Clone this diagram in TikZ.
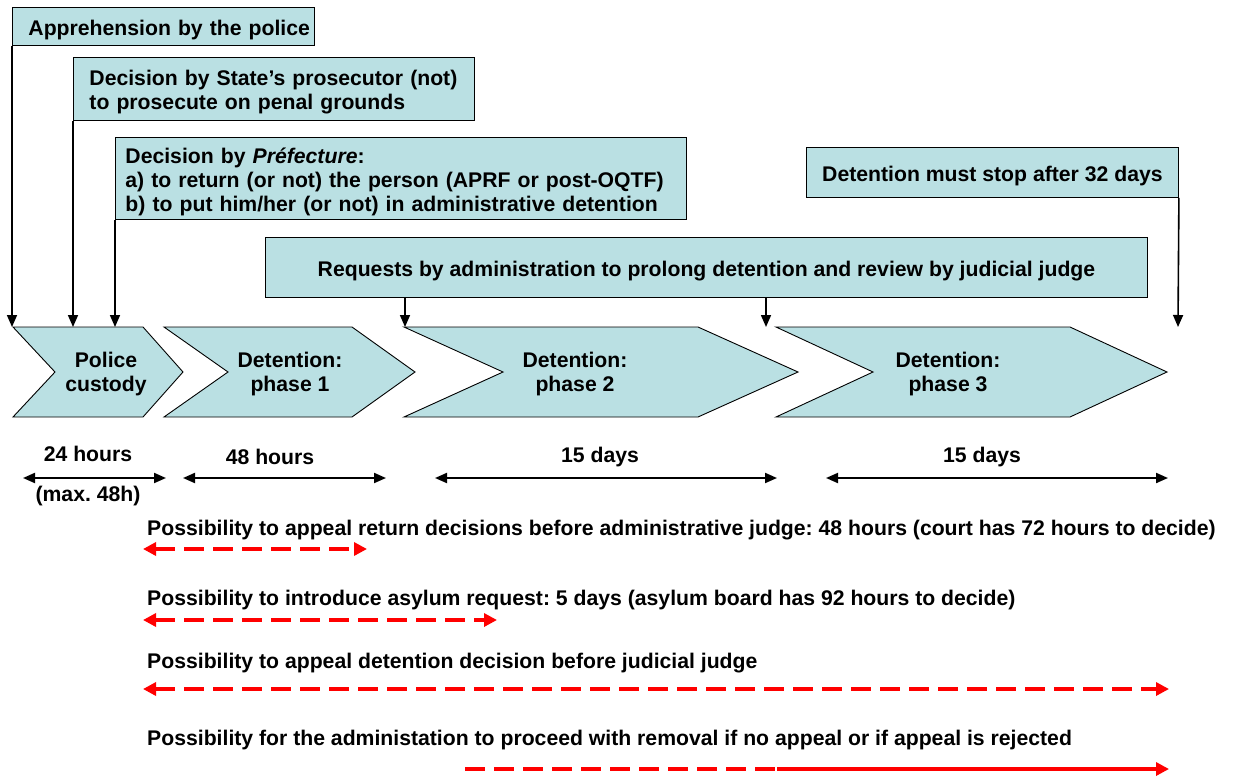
\documentclass[tikz,border=0pt]{standalone}
\usepackage{fontspec}
\setmainfont{Liberation Sans}
\usetikzlibrary{arrows.meta}
\definecolor{boxfill}{RGB}{186,224,227}
\definecolor{dred}{RGB}{255,0,0}
\frenchspacing
\begin{document}
\frenchspacing
\begin{tikzpicture}[x=1pt,y=-1pt,
  font=\fontsize{21.2}{24}\selectfont\bfseries\frenchspacing,
  box/.style={draw=black, line width=0.9pt, fill=boxfill, anchor=north west, inner ysep=0pt, text height=22pt},
  chev/.style={draw=black, line width=0.9pt, fill=boxfill},
  darr/.style={line width=1.6pt, -{Triangle[length=12pt,width=10pt]}},
  dur/.style={line width=2pt, {Triangle[length=12pt,width=10pt]}-{Triangle[length=12pt,width=10pt]}},
  rarr/.style={dred, line width=3.5pt, dash pattern=on 20pt off 9pt, {Triangle[length=13pt,width=13pt]}-{Triangle[length=13pt,width=13pt]}},
  rarrs/.style={dred, line width=3.5pt, -{Triangle[length=13pt,width=13pt]}},
  rdash/.style={dred, line width=3.5pt, dash pattern=on 20pt off 9pt},
  lbl/.style={anchor=west, inner sep=0pt},
  ctext/.style={align=center, inner sep=0pt}]
\useasboundingbox (0,0) rectangle (1233,776);

% top boxes
\node[box, minimum width=302pt, minimum height=38pt, text width=270pt, inner xsep=16pt, align=left] (b1) at (12,7) {\makebox[0pt][l]{Apprehension by the police}};
\node[box, minimum width=401pt, minimum height=63pt, text width=369pt, inner xsep=16pt, align=left] (b2) at (73,57) {Decision by State's prosecutor (not)\\to prosecute on penal grounds};
\node[box, minimum width=571pt, minimum height=82pt, text width=551pt, inner xsep=10pt, align=left] (b3) at (115,137) {Decision by \textit{Préfecture}:\\a) to return (or not) the person (APRF or post-OQTF)\\b) to put him/her (or not) in administrative detention};
\node[box, minimum width=372pt, minimum height=50pt, align=center] (b4) at (806,147) {Detention must stop after 32 days};
\node[box, minimum width=882pt, minimum height=60pt, align=center] (b5) at (265,237) {Requests by administration to prolong detention and review by judicial judge};

% chevrons
\draw[chev] (13,327) -- (143,327) -- (183,372) -- (143,417) -- (13,417) -- (55,372) -- cycle;
\draw[chev] (164,327) -- (352,327) -- (415,372) -- (352,417) -- (164,417) -- (228,372) -- cycle;
\draw[chev] (404,327) -- (698,327) -- (798,372) -- (698,417) -- (404,417) -- (503,372) -- cycle;
\draw[chev] (776,327) -- (1070,327) -- (1167,372) -- (1070,417) -- (776,417) -- (873,372) -- cycle;
\node[ctext] (c1) at (106,374) {Police\\custody};
\node[ctext] (c2) at (290,374) {Detention:\\phase 1};
\node[ctext] (c3) at (575,374) {Detention:\\phase 2};
\node[ctext] (c4) at (948,374) {Detention:\\phase 3};

% arrow targets
\coordinate (t1) at (12,327);
\coordinate (t2) at (73,327);
\coordinate (t3) at (115,327);
\coordinate (t4) at (405,327);
\coordinate (t5) at (766,327);
\coordinate (t6) at (1178,327);
\draw[darr] (b1.south west) -- (t1);
\draw[darr] (b2.south west) -- (t2);
\draw[darr] (b3.south west) -- (t3);
\draw[darr] (b5.south -| t4) -- (t4);
\draw[darr] (b5.south -| t5) -- (t5);
\draw[darr] (b4.south east) -- (t6);

% durations
\coordinate (d1a) at (23,478); \coordinate (d1b) at (166,478);
\coordinate (d2a) at (183,478); \coordinate (d2b) at (386,478);
\coordinate (d3a) at (435,478); \coordinate (d3b) at (777,478);
\coordinate (d4a) at (826,478); \coordinate (d4b) at (1168,478);
\draw[dur] (d1a) -- (d1b);
\draw[dur] (d2a) -- (d2b);
\draw[dur] (d3a) -- (d3b);
\draw[dur] (d4a) -- (d4b);
\node[ctext] (h1) at (88,454) {24 hours};
\node[ctext] (h2) at (270,457) {48 hours};
\node[ctext] (h3) at (600,457) {15 days};
\node[ctext] (h4) at (982,457) {15 days};
\node[ctext] (h5) at (88,496) {(max. 48h)};

% possibilities
\node[lbl] (p1) at (147,530) {Possibility to appeal return decisions before administrative judge: 48 hours (court has 72 hours to decide)};
\node[lbl] (p2) at (147,600) {Possibility to introduce asylum request: 5 days (asylum board has 92 hours to decide)};
\node[lbl] (p3) at (147,663) {Possibility to appeal detention decision before judicial judge};
\node[lbl] (p4) at (147,740) {Possibility for the administation to proceed with removal if no appeal or if appeal is rejected};

\coordinate (r1a) at (143,549); \coordinate (r1b) at (367,549);
\coordinate (r2a) at (143,620); \coordinate (r2b) at (497,620);
\coordinate (r3a) at (143,689); \coordinate (r3b) at (1169,689);
\coordinate (r4a) at (465,769); \coordinate (r4m) at (777,769); \coordinate (r4b) at (1169,769);
\draw[rarr] (r1a) -- (r1b);
\draw[rarr] (r2a) -- (r2b);
\draw[rarr] (r3a) -- (r3b);
\draw[rdash] (r4a) -- (r4m);
\draw[rarrs] (r4m) -- (r4b);
\end{tikzpicture}
\end{document}
